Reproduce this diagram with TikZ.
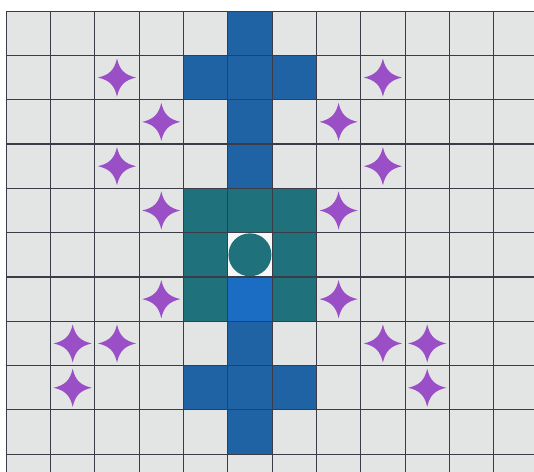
\documentclass[tikz,border=0pt]{standalone}
\usepackage{xcolor}
\usepackage{tikz}
\definecolor{paper}{HTML}{E3E5E5}
\definecolor{pblue}{HTML}{1F63A5}
\definecolor{pteal}{HTML}{1F727B}
\definecolor{pbright}{HTML}{1A6DC2}
\definecolor{spk}{HTML}{9A4FC6}
\definecolor{rule}{HTML}{3C3C48}
\newcommand{\sparkat}[1]{\fill[spk,shift={#1}] (0,0.43)
  .. controls (0.06,0.17) and (0.17,0.06) .. (0.43,0)
  .. controls (0.17,-0.06) and (0.06,-0.17) .. (0,-0.43)
  .. controls (-0.06,-0.17) and (-0.17,-0.06) .. (-0.43,0)
  .. controls (-0.17,0.06) and (-0.06,0.17) .. cycle;}

\begin{document}
\begin{tikzpicture}[
  cell/.style={inner sep=0pt,outer sep=0pt,minimum size=1cm},
  bl/.style={cell,fill=pblue},
  tl/.style={cell,fill=pteal},
  br/.style={cell,fill=pbright},
  hub/.style={circle,inner sep=0pt,minimum size=0.97cm,fill=pteal}]

\useasboundingbox (-0.14,0.25) rectangle (11.91,-10.40);
\clip (-0.14,0.25) rectangle (11.91,-10.40);
\fill[white] (-0.14,0.25) rectangle (11.91,-10.40);
\fill[paper] (0,0) rectangle (11.91,-10.40);

% upper cross
\node[bl] (c5r0) at (5.5,-0.5) {};
\node[bl] (c4r1) at (4.5,-1.5) {};
\node[bl] (c5r1) at (5.5,-1.5) {};
\node[bl] (c6r1) at (6.5,-1.5) {};
\node[bl] (c5r2) at (5.5,-2.5) {};
\node[bl] (c5r3) at (5.5,-3.5) {};

% middle block
\node[tl] (c4r4) at (4.5,-4.5) {};
\node[tl] (c5r4) at (5.5,-4.5) {};
\node[tl] (c6r4) at (6.5,-4.5) {};
\node[tl] (c4r5) at (4.5,-5.5) {};
\node[cell,fill=white!70!paper] (c5r5) at (5.5,-5.5) {};
\node[tl] (c6r5) at (6.5,-5.5) {};
\node[tl] (c4r6) at (4.5,-6.5) {};
\node[br] (c5r6) at (5.5,-6.5) {};
\node[tl] (c6r6) at (6.5,-6.5) {};
\node[hub] (core) at (5.5,-5.5) {};

% lower cross
\node[bl] (c5r7) at (5.5,-7.5) {};
\node[bl] (c4r8) at (4.5,-8.5) {};
\node[bl] (c5r8) at (5.5,-8.5) {};
\node[bl] (c6r8) at (6.5,-8.5) {};
\node[bl] (c5r9) at (5.5,-9.5) {};

\draw[rule,line width=0.7pt,step=1] (0,-10.40) grid (11.91,0);

% sparkles
\sparkat{(2.5,-1.5)} \sparkat{(8.5,-1.5)}
\sparkat{(3.5,-2.5)} \sparkat{(7.5,-2.5)}
\sparkat{(2.5,-3.5)} \sparkat{(8.5,-3.5)}
\sparkat{(3.5,-4.5)} \sparkat{(7.5,-4.5)}
\sparkat{(3.5,-6.5)} \sparkat{(7.5,-6.5)}
\sparkat{(1.5,-7.5)} \sparkat{(2.5,-7.5)}
\sparkat{(8.5,-7.5)} \sparkat{(9.5,-7.5)}
\sparkat{(1.5,-8.5)} \sparkat{(9.5,-8.5)}
\end{tikzpicture}
\end{document}
